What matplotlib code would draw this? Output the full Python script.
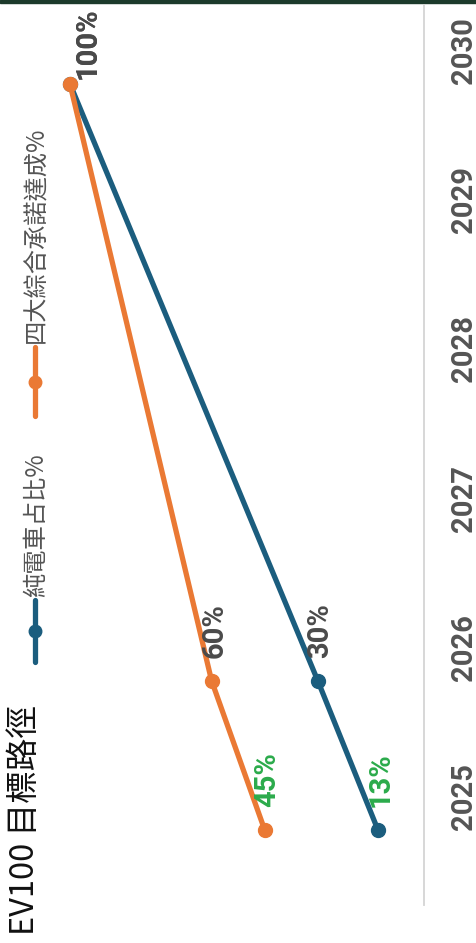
import matplotlib
matplotlib.use("Agg")
import matplotlib.pyplot as plt
from matplotlib import transforms
from matplotlib.lines import Line2D
from matplotlib.patches import Rectangle

plt.rcParams['font.family'] = ['Roboto', 'Noto Sans CJK TC', 'DejaVu Sans']

# ---- data ----
title = "EV100 目標路徑"
years = [2025, 2026, 2030]
year_ticks = [2025, 2026, 2027, 2028, 2029, 2030]
series_names = ["純電車占比%", "四大綜合承諾達成%"]
bev_share = [13, 30, 100]
commit_rate = [45, 60, 100]
series_values = [bev_share, commit_rate]
series_colors = ["#1b5d7e", "#ea7934"]

W, H = 477, 943
fig = plt.figure(figsize=(W / 100, H / 100), dpi=100)
fig.patch.set_facecolor("white")

def fx(x):
    return x / W

def fy(y):
    return 1 - y / H

# axes: value axis horizontal (100 at left, 0 at right), years vertical
ax = fig.add_axes([fx(70), fy(830), (424 - 70) / W, (830 - 84) / H])
ax.set_xlim(100, 0)
ax.set_ylim(2025, 2030)
ax.set_facecolor("none")
for s in ax.spines.values():
    s.set_visible(False)
ax.set_xticks([])
ax.set_yticks([])

# top dark strip
fig.add_artist(Rectangle((0, fy(3)), 1, 3 / H, transform=fig.transFigure,
                         color="#1c3a2b", zorder=0))
# baseline (0%) grey line
fig.add_artist(Line2D([fx(424), fx(424)], [fy(5), fy(905)], transform=fig.transFigure,
                      color="#d4d4d4", lw=1.3, zorder=1))

# lines
for vals, col in zip(series_values, series_colors):
    ax.plot(vals, years, color=col, lw=3.8, marker='o', ms=10, clip_on=False,
            solid_capstyle='round', zorder=3)

# data labels
label_font = dict(fontsize=21, fontweight='bold', family=['Roboto', 'DejaVu Sans'])
for vals in series_values:
    for v, yr in zip(vals, years):
        if v == 100:
            off = (12.5, 3.5)
        else:
            off = (2.0, 16.5)
        col = "#2bab4b" if yr == years[0] else "#4a4a4a"
        ax.annotate(f"{v}%", (v, yr), xytext=off, textcoords='offset points',
                    rotation=90, rotation_mode='anchor', ha='left', va='center',
                    color=col, zorder=4, annotation_clip=False, **label_font)

# year labels on the right
trans = transforms.blended_transform_factory(ax.transAxes, ax.transData)
xlab = (464 - 70) / (424 - 70)
for yr in year_ticks:
    ax.text(xlab, yr, str(yr), transform=trans, rotation=90, rotation_mode='anchor',
            ha='left', va='center', fontsize=21, fontweight='bold', color="#555555",
            family=['Roboto', 'DejaVu Sans'], clip_on=False)

# legend (manual, rotated)
leg_specs = [(600, 662, 597), (347, 416, 343)]  # line top, line bottom, text bottom (px)
for name, col, (lt, lb, tb) in zip(series_names, series_colors, leg_specs):
    fig.add_artist(Line2D([fx(35), fx(35)], [fy(lt), fy(lb)], transform=fig.transFigure,
                          color=col, lw=3.8, solid_capstyle='round'))
    fig.add_artist(Line2D([fx(35)], [fy((lt + lb) / 2)], transform=fig.transFigure,
                          color=col, marker='o', ms=9, lw=0))
    fig.text(fx(36), fy(tb), name, rotation=90, ha='center', va='bottom',
             fontsize=17.5, color="#555555", family=['Noto Sans CJK TC', 'DejaVu Sans'])

# title
fig.text(fx(25), fy(935), title, rotation=90, ha='center', va='bottom',
         fontsize=23.5, fontweight='medium', color="#111111",
         family=['Noto Sans CJK TC', 'DejaVu Sans'])

fig.savefig("out.png", dpi=100, facecolor="white")
